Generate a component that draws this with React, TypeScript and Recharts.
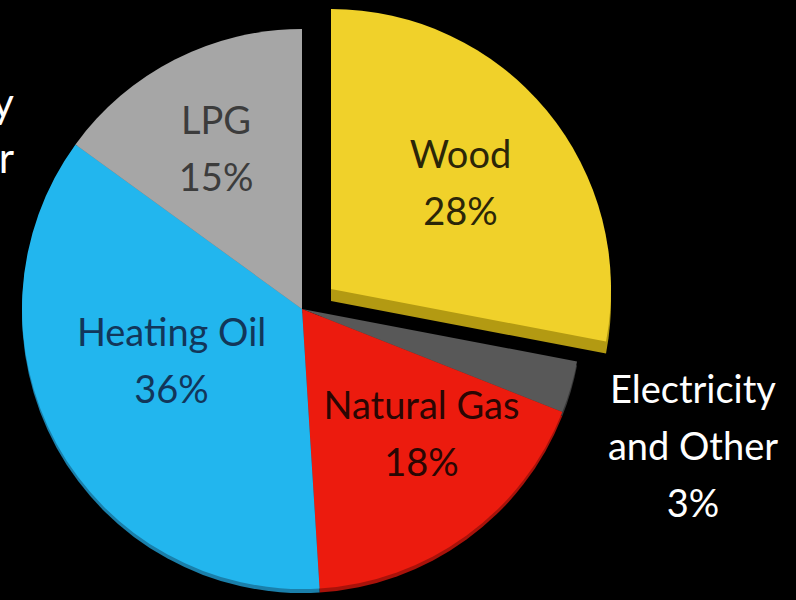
import React from 'react';
import { PieChart, Pie, Cell } from 'recharts';

const categories = ['Wood', 'Electricity and Other', 'Natural Gas', 'Heating Oil', 'LPG'];
const shares = [28, 3, 18, 36, 15];

const colors = ['#F0D12A', '#585858', '#EC1B0E', '#22B6EE', '#A6A6A6'];
const rimColors = ['#B39A12', '#3A3A3A', '#A8120A', '#1A7FAA', '#6E6E6E'];
const textColors = ['#2B2608', '#FFFFFF', '#2A0603', '#12365A', '#3C3C3C'];

// label distance from centre (px) and angle nudge (deg) per slice
const labelRadius = [168, 414, 172, 140, 183];
const labelShift = [0, -3, 8, -7.5, 1];

const data = categories.map((name, i) => ({ name, value: shares[i] }));

const CX = 302;
const CY = 309;
const R = 280;
const EXPLODE_X = 29;
const EXPLODE_Y = -20;
const RAD = Math.PI / 180;
const FONT = 'Lato, "Open Sans", sans-serif';

const renderLabel = (props: any) => {
  const { cx, cy, midAngle, index, name, value } = props;
  const ang = (midAngle + labelShift[index]) * RAD;
  let x = cx + labelRadius[index] * Math.cos(-ang);
  let y = cy + labelRadius[index] * Math.sin(-ang);
  if (index === 0) {
    x += EXPLODE_X;
    y += EXPLODE_Y;
  }
  const lines = name.includes(' and ') ? name.replace(' and ', '\nand ').split('\n') : [name];
  lines.push(`${value}%`);
  const lh = 57;
  return (
    <text
      key={`lbl-${index}`}
      x={x}
      y={y}
      fill={textColors[index]}
      textAnchor="middle"
      fontFamily={FONT}
      fontSize={38}
    >
      {lines.map((ln: string, i: number) => (
        <tspan key={i} x={x} y={y + (i - (lines.length - 1) / 2) * lh} dominantBaseline="central">
          {ln}
        </tspan>
      ))}
    </text>
  );
};

const App: React.FC = () => {
  return (
    <div style={{ position: 'fixed', left: 0, top: 0, width: 796, height: 600, background: '#000' }}>
      <PieChart width={796} height={600} margin={{ top: 0, right: 0, bottom: 0, left: 0 }}>
        {/* rim for a bit of depth */}
        <Pie data={data} dataKey="value" cx={CX} cy={CY + 4} outerRadius={R} startAngle={90} endAngle={-270}
          stroke="none" isAnimationActive={false}>
          {data.map((d, i) => (
            <Cell key={d.name} fill={i === 0 ? 'none' : rimColors[i]} />
          ))}
        </Pie>
        <Pie data={data} dataKey="value" cx={CX} cy={CY} outerRadius={R} startAngle={90} endAngle={-270}
          stroke="none" isAnimationActive={false}>
          {data.map((d, i) => (
            <Cell key={d.name} fill={i === 0 ? 'none' : colors[i]} />
          ))}
        </Pie>
        {/* exploded wood slice: side then top */}
        <Pie data={data} dataKey="value" cx={CX + EXPLODE_X} cy={CY + EXPLODE_Y + 12} outerRadius={R}
          startAngle={90} endAngle={-270} stroke="none" isAnimationActive={false}>
          {data.map((d, i) => (
            <Cell key={d.name} fill={i === 0 ? rimColors[0] : 'none'} />
          ))}
        </Pie>
        <Pie data={data} dataKey="value" cx={CX + EXPLODE_X} cy={CY + EXPLODE_Y} outerRadius={R}
          startAngle={90} endAngle={-270} stroke="none" isAnimationActive={false}>
          {data.map((d, i) => (
            <Cell key={d.name} fill={i === 0 ? colors[0] : 'none'} />
          ))}
        </Pie>
        {/* label layer */}
        <Pie data={data} dataKey="value" cx={CX} cy={CY} outerRadius={R} startAngle={90} endAngle={-270}
          stroke="none" fill="none" isAnimationActive={false} label={renderLabel} labelLine={false}>
          {data.map((d) => (
            <Cell key={d.name} fill="none" />
          ))}
        </Pie>
        <text x={14} y={118} textAnchor="end" fill="#FFFFFF" fontFamily={FONT} fontSize={42}>y</text>
        <text x={14} y={173} textAnchor="end" fill="#FFFFFF" fontFamily={FONT} fontSize={42}>r</text>
      </PieChart>
    </div>
  );
};

export default App;
